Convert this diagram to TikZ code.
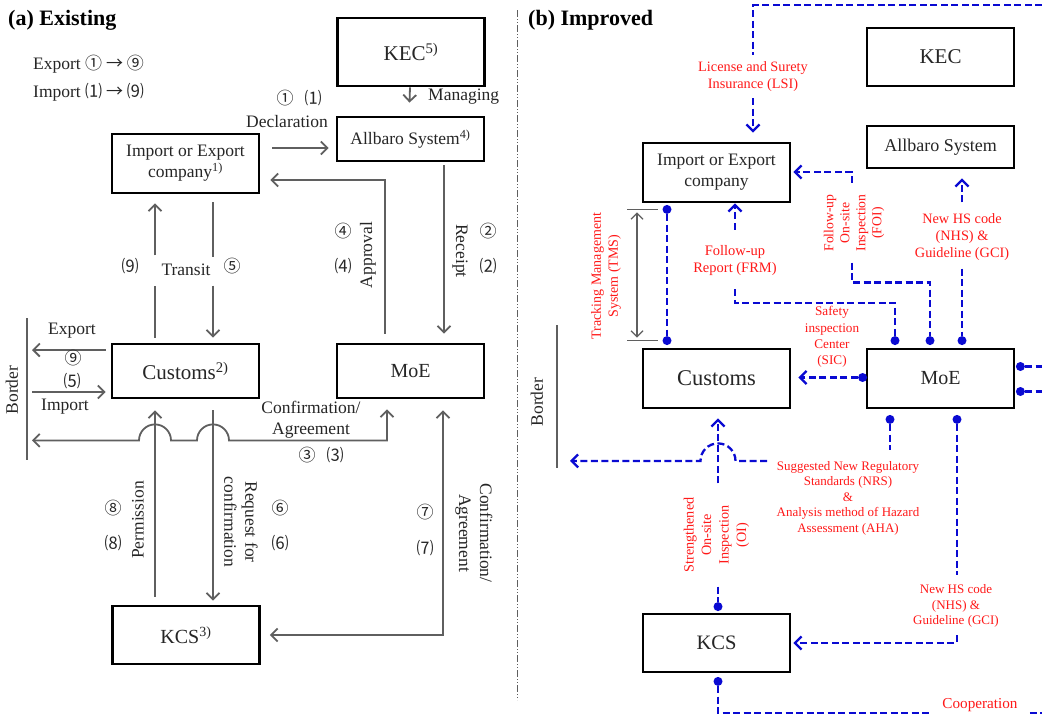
\documentclass[tikz,border=0pt]{standalone}
\usepackage{fontspec}
\setmainfont{Liberation Serif}
\newfontfamily\cjk{Noto Sans CJK SC}
\usetikzlibrary{arrows.meta,calc}
\definecolor{bblue}{RGB}{10,10,210}
\definecolor{rred}{RGB}{255,25,25}
\definecolor{gline}{RGB}{95,95,95}
\newcommand\fz[2]{\fontsize{#1}{#2}\selectfont}
\newcommand\cn[1]{{\cjk\fz{17}{19}#1}}
\begin{document}
\begin{tikzpicture}[x=1pt,y=-1pt,
  box/.style={draw=black,line width=2.8pt,minimum width=147pt,inner sep=0pt,align=center,text=black!85,font=\fz{17.5}{21}},
  gl/.style={draw=gline,line width=1.8pt},
  garr/.style={gl,-{Straight Barb[length=6.5pt,width=13pt]}},
  garrb/.style={gl,{Straight Barb[length=6.5pt,width=13pt]}-{Straight Barb[length=6.5pt,width=13pt]}},
  bl/.style={draw=bblue,line width=2.3pt,dash pattern=on 7pt off 3.5pt},
  barr/.style={bl,-{Straight Barb[length=6.5pt,width=13pt]}},
  dotn/.style={circle,fill=bblue,inner sep=0pt,minimum size=9pt},
  lab/.style={inner sep=0pt,align=center,text=black!85,font=\fz{17.5}{21}},
  rl/.style={inner sep=0pt,align=center,text=rred,font=\fz{14.3}{17}},
  rls/.style={inner sep=0pt,align=center,text=rred,font=\fz{13}{15.5}},
]
\fill[white] (0,0) rectangle (1042,715);
\useasboundingbox (0,0) rectangle (1042,715);

% ---------------- (a) Existing ----------------
\node[lab,anchor=west,text=black] (ttlA) at (8,20) {\fz{22}{26}\bfseries (a) Existing};
\node[lab,anchor=west] (expA) at (33,64) {Export \cn{① → ⑨}};
\node[lab,anchor=west] (impA) at (33,92) {Import \cn{⑴ → ⑼}};

\node[box,minimum height=68pt] (kecA) at (411,52) {\fz{21}{24}KEC\textsuperscript{5)}};
\node[box,minimum height=44pt] (allA) at (410.5,139) {Allbaro System\textsuperscript{4)}};
\node[box,minimum height=59pt] (compA) at (185.5,163.5) {Import or Export\\company\textsuperscript{1)}};
\node[box,minimum height=54pt] (cusA) at (185.5,371) {\fz{21}{24}Customs\textsuperscript{2)}};
\node[box,minimum height=54pt] (moeA) at (410.5,371) {\fz{20}{24}MoE};
\node[box,minimum height=58pt] (kcsA) at (186,635) {\fz{20}{24}KCS\textsuperscript{3)}};

\coordinate (bA1) at (27,318);
\coordinate (bA2) at (27,460);
\draw[gl] (bA1) -- (bA2);
\node[lab,rotate=90] (bordA) at (12,390) {Border};

% Managing
\draw[garr] ($(kecA.south)+(-1,0)$) -- ($(allA.north)+(-1,-13)$);
\node[lab,anchor=west] (mng) at (428,97) {Managing};
% Declaration
\draw[garr] ($(compA.east)+(12,-15.5)$) -- ($(allA.west)+(-7,9)$);
\node[lab] (n1a) at (285,98) {\cn{①}};
\node[lab] (n1b) at (313,98) {\cn{⑴}};
\node[lab] (decl) at (287,122) {Declaration};
% Approval
\draw[garr] ($(moeA.north)+(-25.5,-9)$) |- ($(compA.east)+(10,16.5)$);
\node[lab,rotate=90] (appr) at (368,255) {Approval};
\node[lab] (n4a) at (343,231) {\cn{④}};
\node[lab] (n4b) at (343,266) {\cn{⑷}};
% Receipt
\draw[garr] ($(allA.south)+(33.5,3)$) -- ($(moeA.north)+(33.5,-9)$);
\node[lab,rotate=-90] (rcpt) at (460,251) {Receipt};
\node[lab] (n2a) at (488,231) {\cn{②}};
\node[lab] (n2b) at (488,266) {\cn{⑵}};
% Transit
\draw[gl] ($(cusA.north)+(-30.5,-5)$) -- ($(cusA.north)+(-30.5,-57)$);
\draw[garr] ($(compA.south)+(-30.5,61)$) -- ($(compA.south)+(-30.5,9)$);
\draw[gl] ($(compA.south)+(27.5,8)$) -- ($(compA.south)+(27.5,63)$);
\draw[garr] ($(cusA.north)+(27.5,-57)$) -- ($(cusA.north)+(27.5,-5)$);
\node[lab] (trn) at (186,270) {Transit};
\node[lab] (n9t) at (130,266) {\cn{⑼}};
\node[lab] (n5t) at (232,266) {\cn{⑤}};
% Export / Import at border
\draw[garr] ($(cusA.west)+(-5,-21)$) -- ($(cusA.west -| bA1)+(5,-21)$);
\draw[garr] ($(cusA.west -| bA1)+(5,21)$) -- ($(cusA.west)+(-5,21)$);
\node[lab] (expL) at (72,331) {Export};
\node[lab] (n9e) at (73,358) {\cn{⑨}};
\node[lab] (n5i) at (72,381) {\cn{⑸}};
\node[lab] (impL) at (65,407) {Import};
% Confirmation/Agreement (3)
\draw[garrb] ($(moeA.south)+(-23.5,10)$) |- ($(cusA.south)+(43.5,41)$)
   arc[start angle=0,end angle=180,radius=16pt] -- ($(cusA.south)+(-14.5,41)$)
   arc[start angle=0,end angle=180,radius=16pt] -- ($(cusA.south -| bA1)+(5,41)$);
\node[lab] (conf3) at (311,420) {Confirmation/\\Agreement};
\node[lab] (n3a) at (307,455) {\cn{③}};
\node[lab] (n3b) at (335,455) {\cn{⑶}};
% Permission
\draw[garr] ($(kcsA.north)+(-31,-8)$) -- ($(cusA.south)+(-30.5,11)$);
\node[lab,rotate=90] (perm) at (138,520) {Permission};
\node[lab] (n8a) at (113,508) {\cn{⑧}};
\node[lab] (n8b) at (113,543) {\cn{⑻}};
% Request for confirmation
\draw[garr] ($(cusA.south)+(27.5,11)$) -- ($(kcsA.north)+(27,-4)$);
\node[lab,rotate=-90] (req) at (241,522) {Request for\\confirmation};
\node[lab] (n6a) at (280,508) {\cn{⑥}};
\node[lab] (n6b) at (280,543) {\cn{⑹}};
% Confirmation/Agreement (7)
\draw[garrb] ($(kcsA.east)+(9,0)$) -| ($(moeA.south)+(32.5,11)$);
\node[lab,rotate=-90] (conf7) at (474,533) {Confirmation/\\Agreement};
\node[lab] (n7a) at (425,512) {\cn{⑦}};
\node[lab] (n7b) at (425,548) {\cn{⑺}};

% separator
\coordinate (sep1) at (517,10);
\coordinate (sep2) at (517,700);
\draw[draw=gline,line width=1pt,dash pattern=on 7pt off 2pt on 1pt off 2pt on 1pt off 2pt] (sep1) -- (sep2);

% ---------------- (b) Improved ----------------
\node[lab,anchor=west,text=black] (ttlB) at (528,20) {\fz{22}{26}\bfseries (b) Improved};

\node[box,minimum height=58pt] (kecB) at (940.5,57) {\fz{21}{24}KEC};
\node[box,minimum height=42pt] (allB) at (940.5,147) {\fz{18}{21}Allbaro System};
\node[box,minimum height=59pt] (compB) at (716.5,172.5) {Import or Export\\company};
\node[box,minimum height=59pt] (cusB) at (716.5,378.5) {\fz{22.5}{26}Customs};
\node[box,minimum height=59pt] (moeB) at (940.5,378.5) {\fz{20}{24}MoE};
\node[box,minimum height=58pt] (kcsB) at (716.5,643) {\fz{20.5}{24}KCS};

\coordinate (bB1) at (557,325);
\coordinate (bB2) at (557,468);
\draw[gl] (bB1) -- (bB2);
\node[lab,rotate=90] (bordB) at (537,402) {Border};

% dots
\node[dotn] (dFRM) at ($(moeB.north)+(-45.5,-7)$) {};
\node[dotn] (dFOI) at ($(moeB.north)+(-10.5,-7)$) {};
\node[dotn] (dNHS) at ($(moeB.north)+(21.5,-7)$) {};
\node[dotn] (dTMS1) at ($(compB.south)+(-49.5,6)$) {};
\node[dotn] (dTMS2) at ($(cusB.north)+(-49.5,-7)$) {};
\node[dotn] (dSIC) at ($(moeB.west)+(-3,-1)$) {};
\node[dotn] (dR1) at ($(moeB.east)+(5,-12)$) {};
\node[dotn] (dR2) at ($(moeB.east)+(5,13)$) {};
\node[dotn] (dNRS) at ($(moeB.south)+(-50.5,10)$) {};
\node[dotn] (dNHS2) at ($(moeB.south)+(16.5,10)$) {};
\node[dotn] (dOI) at ($(kcsB.north)+(1.5,-6)$) {};
\node[dotn] (dCoop) at ($(kcsB.south)+(1.5,8)$) {};

% LSI
\coordinate (eTop) at (1042,5);
\node[rl] (lsi) at (753,77) {License and Surety\\Insurance (LSI)};
\draw[bl] (eTop) -| ($(lsi.north)+(0,-7)$);
\draw[barr] ($(lsi.south)+(0,6)$) -- ($(compB.north)+(36.5,-9)$);

% FOI
\node[rl,rotate=90,font=\fz{13.7}{16}] (foi) at (854,223) {Follow-up\\On-site\\Inspection\\(FOI)};
\draw[barr] ($(dFOI)+(-78,-158)$) |- ($(compB.east)+(2,-0.5)$);
\draw[bl] ($(dFOI)+(-78,-78)$) -- ($(dFOI)+(-78,-58)$) -| (dFOI);

% FRM
\node[rl,font=\fz{14.5}{17}] (frm) at (735,261) {Follow-up\\Report (FRM)};
\draw[barr] ($(frm.north)+(0,-16)$) -- ($(compB.south)+(18.5,0)$);
\draw[bl] ($(frm.south)+(0,13)$) -- ($(frm.south)+(0,27)$) -| (dFRM);

% TMS
\draw[bl] (dTMS1) -- (dTMS2);
\draw[draw=gline,line width=1.2pt] ($(dTMS1)+(-40,0)$) -- ($(dTMS1)+(-9,0)$);
\draw[draw=gline,line width=1.2pt] ($(dTMS2)+(-40,0)$) -- ($(dTMS2)+(-9,0)$);
\draw[draw=gline,line width=1.2pt,{Straight Barb[length=6pt,width=12pt]}-{Straight Barb[length=6pt,width=12pt]}] ($(dTMS1)+(-30,3)$) -- ($(dTMS2)+(-30,-3)$);
\node[rl,rotate=90,font=\fz{14}{17}] (tms) at (606,276) {Tracking Management\\System (TMS)};

% NHS to Allbaro
\node[rl] (nhs1) at (962,237) {New HS code\\(NHS) \&\\Guideline (GCI)};
\draw[barr] ($(nhs1.north)+(0,-11)$) -- ($(allB.south)+(21.5,9)$);
\draw[bl] ($(nhs1.south)+(0,8)$) -- (dNHS);

% SIC
\draw[barr] (dSIC) -- ($(cusB.east)+(7,-1)$);
\node[rls,font=\fz{13.2}{16.3}] (sic) at (832,337) {Safety\\inspection\\Center\\(SIC)};

% right edge
\coordinate (eR1) at (1042,366.5);
\coordinate (eR2) at (1042,391.5);
\draw[bl] (dR1) -- (eR1);
\draw[bl] (dR2) -- (eR2);

% NRS / AHA
\node[rls] (nrs) at (848,498) {Suggested New Regulatory\\Standards (NRS)\\\&\\Analysis method of Hazard\\Assessment (AHA)};
\draw[bl] (dNRS) -- ($(dNRS)+(0,31)$);
\draw[barr] ($(cusB.south)+(50.5,51.5)$) -- ($(cusB.south)+(19,51.5)$)
   arc[start angle=0,end angle=180,radius=17.5pt] -- ($(cusB.south -| bB1)+(13,51.5)$);

% OI
\node[rl,rotate=90,font=\fz{14.2}{17.5}] (oi) at (716.5,535) {Strengthened\\On-site\\Inspection\\(OI)};
\draw[barr] ($(cusB.south)+(1.5,74)$) -- ($(cusB.south)+(1.5,9)$);
\draw[bl] ($(dOI)+(0,-20)$) -- (dOI);

% NHS to KCS
\node[rls] (nhs2) at (956,606) {New HS code\\(NHS) \&\\Guideline (GCI)};
\draw[bl] (dNHS2) -- ($(dNHS2)+(0,156)$);
\draw[barr] ($(dNHS2)+(0,216)$) |- ($(kcsB.east)+(2,0)$);

% Cooperation
\node[rl,font=\fz{15.2}{18}] (coop) at (980,705) {Cooperation};
\coordinate (eBot) at (1042,713);
\draw[bl] (dCoop) |- ($(coop.west)+(-13,8)$);
\draw[bl] ($(coop.east)+(12,8)$) -- (eBot);
\end{tikzpicture}
\end{document}
